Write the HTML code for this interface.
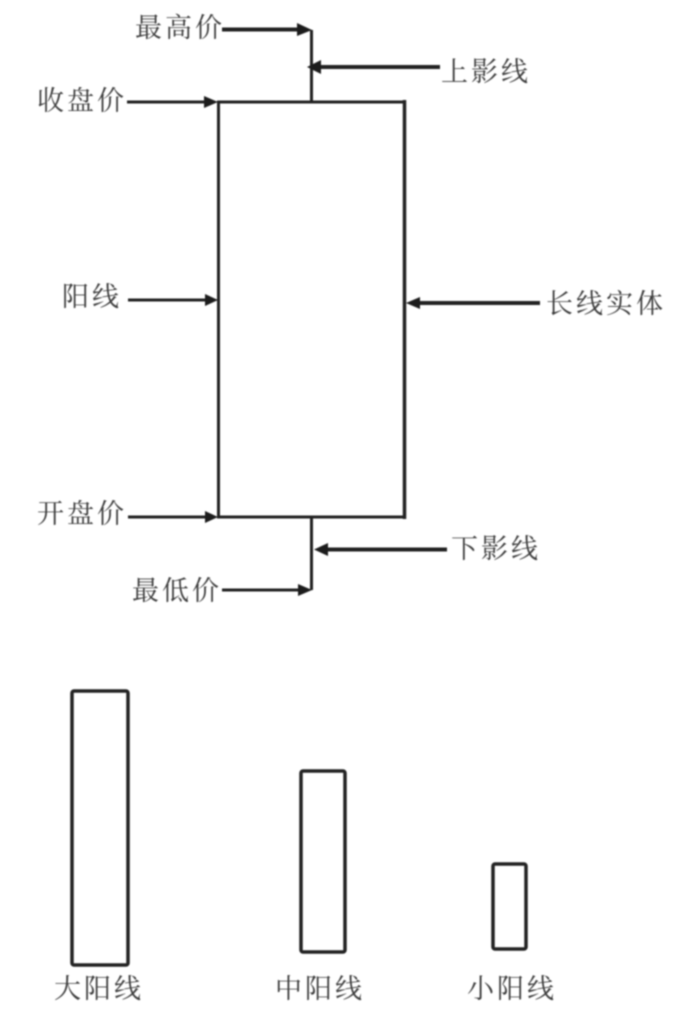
<!DOCTYPE html>
<html>
<head>
<meta charset="utf-8">
<style>
html,body{margin:0;padding:0;background:#fff}
svg{display:block;filter:blur(0.7px)}
text{font-family:"Liberation Serif","Noto Serif CJK SC",serif;font-size:27px;letter-spacing:3px;fill:#3c3c3c}
</style>
</head>
<body>
<svg width="675" height="1012" viewBox="0 0 675 1012" xmlns="http://www.w3.org/2000/svg">
<g fill="none" stroke="#222" stroke-width="3">
<line x1="218.500" y1="102" x2="218.500" y2="517"/>
<line x1="217" y1="102" x2="406" y2="102"/>
<line x1="217" y1="517" x2="406" y2="517"/>
<line x1="404.500" y1="100" x2="404.500" y2="519" stroke-width="3.500"/>
<line x1="311.500" y1="30" x2="311.500" y2="102"/>
<line x1="311.500" y1="517" x2="311.500" y2="590"/>
<line x1="222" y1="29.500" x2="300" y2="29.500" stroke-width="4"/>
<line x1="320" y1="67" x2="440" y2="67" stroke-width="4"/>
<line x1="127" y1="102" x2="208" y2="102"/>
<line x1="128" y1="300" x2="208" y2="300"/>
<line x1="128" y1="517" x2="208" y2="517"/>
<line x1="418" y1="303" x2="540" y2="303" stroke-width="4"/>
<line x1="325" y1="549.500" x2="447" y2="549.500" stroke-width="4"/>
<line x1="222" y1="590" x2="300" y2="590"/>
<rect x="72" y="691" width="56" height="274" rx="2" stroke-width="3.500"/>
<rect x="301" y="771" width="44" height="181" rx="2" stroke-width="3.500"/>
<rect x="493" y="864" width="33" height="85" rx="2" stroke-width="3.500"/>
</g>
<g fill="#1c1c1c">
<polygon points="312,30 297,23 297,36"/>
<polygon points="307,67 321,60 321,74"/>
<polygon points="218,102 204,96 204,108"/>
<polygon points="218,300 205,294 205,306"/>
<polygon points="218,517 205,511 205,523"/>
<polygon points="406,303 420,297 420,309"/>
<polygon points="314,549.500 328,543 328,556"/>
<polygon points="312,590 298,584 298,596"/>
</g>
<text x="135" y="37">最高价</text>
<text x="441" y="81">上影线</text>
<text x="37" y="110">收盘价</text>
<text x="62" y="306">阳线</text>
<text x="546" y="313">长线实体</text>
<text x="37" y="523">开盘价</text>
<text x="451" y="558">下影线</text>
<text x="132" y="600">最低价</text>
<text x="54" y="998">大阳线</text>
<text x="275" y="998">中阳线</text>
<text x="467" y="998">小阳线</text>
</svg>
</body>
</html>
